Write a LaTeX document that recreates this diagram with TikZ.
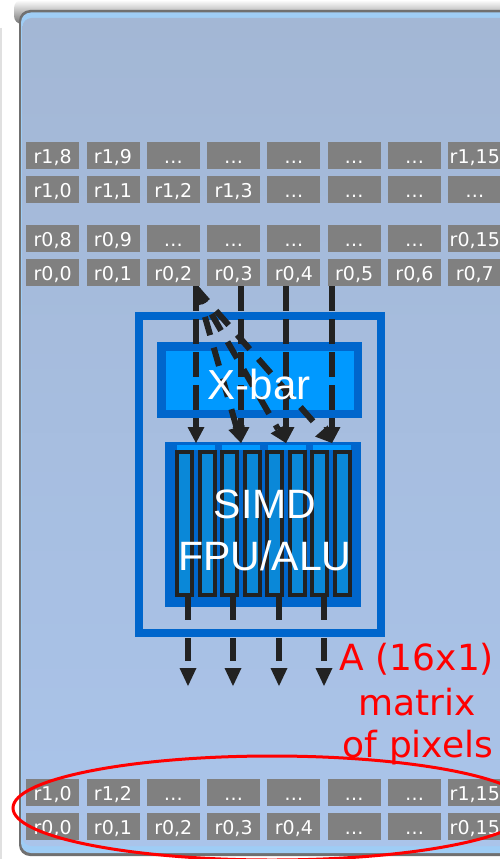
\documentclass[tikz,border=0pt]{standalone}
\usepackage{fontspec}
\setmainfont{Liberation Sans}
\newfontfamily\dvsans{DejaVu Sans}
\usetikzlibrary{arrows.meta,shapes.geometric}
\definecolor{panelTop}{HTML}{A3B7D5}
\definecolor{panelBot}{HTML}{AAC4EA}
\definecolor{paneledge}{HTML}{707070}
\definecolor{panelrim}{HTML}{9FCDF5}
\definecolor{frameblue}{HTML}{0066CC}
\definecolor{xbarfill}{HTML}{0099FF}
\definecolor{lanefill}{HTML}{0A88D8}
\definecolor{cellgray}{HTML}{808080}
\definecolor{arrowblack}{HTML}{222222}
\newcommand\regrow[3]{%
  \foreach \txt [count=\i] in {#3}{%
    \node[regcell] (r#1-\i) at ({26+60.3*(\i-1)},#2) {\txt};
  }%
}
\begin{document}
\begin{tikzpicture}[x=1pt,y=-1pt,
  regcell/.style={anchor=north west, fill=cellgray, text=white, minimum width=53pt,
    minimum height=27pt, inner sep=0pt, text height=17pt, text depth=2pt,
    font=\dvsans\fontsize{19}{21}\selectfont},
  bigtext/.style={text=white, inner sep=0pt, font=\fontsize{42}{48}\selectfont},
  simdtext/.style={text=white, inner sep=0pt, font=\fontsize{41}{48}\selectfont},
  redtext/.style={text=red, inner sep=0pt, font=\dvsans\fontsize{36}{40}\selectfont},
  lane/.style={draw=arrowblack, fill=lanefill, line width=4pt, minimum width=15pt,
    minimum height=143pt, inner sep=0pt},
  inarrow/.style={draw=arrowblack, line width=6pt, dash pattern=on 25pt off 8pt,
    -{Triangle[width=17pt,length=16pt,line width=0pt]}},
  fanarrow/.style={draw=arrowblack, line width=6pt, dash pattern=on 19pt off 13pt, dash phase=3pt,
    -{Triangle[width=17pt,length=16pt,line width=0pt]}},
  outarrow/.style={draw=arrowblack, line width=6pt, dash pattern=on 23pt off 18pt,
    -{Triangle[width=17pt,length=18pt,line width=0pt]}}
]
\useasboundingbox (0,0) rectangle (500,859);
\fill[white] (0,0) rectangle (500,859);
% shadow and panel
\shade[top color=white, bottom color=black!55, rounded corners=8pt] (14,0) rectangle (560,24);
\draw[black!12, line width=2pt] (1,28) -- (1,859);
\fill[paneledge, rounded corners=11pt] (19,10) rectangle (560,856);
\fill[panelrim, rounded corners=10pt] (21,12.5) rectangle (558,853);
\shade[top color=panelTop, bottom color=panelBot, rounded corners=9pt] (22.5,18) rectangle (556,846);
% register cells
\regrow{A}{142}{{r1,8},{r1,9},…,…,…,…,…,{r1,15}}
\regrow{B}{176}{{r1,0},{r1,1},{r1,2},{r1,3},…,…,…,…}
\regrow{C}{225}{{r0,8},{r0,9},…,…,…,…,…,{r0,15}}
\regrow{D}{259}{{r0,0},{r0,1},{r0,2},{r0,3},{r0,4},{r0,5},{r0,6},{r0,7}}
\regrow{E}{779}{{r1,0},{r1,2},…,…,…,…,…,{r1,15}}
\regrow{F}{813}{{r0,0},{r0,1},{r0,2},{r0,3},{r0,4},…,…,{r0,15}}
% frame
\node[draw=frameblue, line width=8pt, minimum width=242pt, minimum height=317pt, inner sep=0pt] (frame) at (260,474.5) {};
% X-bar
\node[fill=xbarfill, draw=frameblue, line width=8.5pt, minimum width=196.5pt, minimum height=67.5pt, inner sep=0pt] (xbar) at (259.5,380) {};
% SIMD unit
\node[fill=frameblue, minimum width=196pt, minimum height=165pt, inner sep=0pt] (simd) at (263,524.5) {};
\foreach \x [count=\i] in {177,222,268,313}
  \node[fill=xbarfill, minimum width=38pt, minimum height=5pt, inner sep=0pt, anchor=north west] (strip\i) at (\x,445) {};
\foreach \i in {1,...,8}
  \node[lane] (lane\i) at ({184.5+22.57*(\i-1)},523.5) {};
\node[simdtext, anchor=base] (simdl1) at (265,518) {SIMD};
\node[simdtext, anchor=base] (simdl2) at (265,570) {FPU/ALU};
% input arrows
\foreach \x [count=\i] in {196,241,286,332}{
  \coordinate (src\i) at (\x,286);
  \coordinate (dst\i) at (\x,443);
  \draw[inarrow] (src\i) -- (dst\i);
}
\coordinate (fan) at (197,289);
\foreach \i in {2,3,4}
  \draw[fanarrow] (fan) -- (dst\i);
\node[bigtext, anchor=base] (xbarlabel) at (259,399) {X-bar};
% output arrows
\foreach \x [count=\i] in {188,233,279,324}{
  \coordinate (out\i) at (\x,597);
  \coordinate (res\i) at (\x,686);
  \draw[outarrow] (out\i) -- (res\i);
}
% annotation
\node[redtext, anchor=base] (cap1) at (417,670) {A (16x1)};
\node[redtext, anchor=base] (cap2) at (417,715) {matrix};
\node[redtext, anchor=base] (cap3) at (418,757) {of pixels};
\node[draw=red, line width=3pt, ellipse, minimum width=518pt, minimum height=104pt, inner sep=0pt] (sel) at (272,808) {};
\end{tikzpicture}
\end{document}
